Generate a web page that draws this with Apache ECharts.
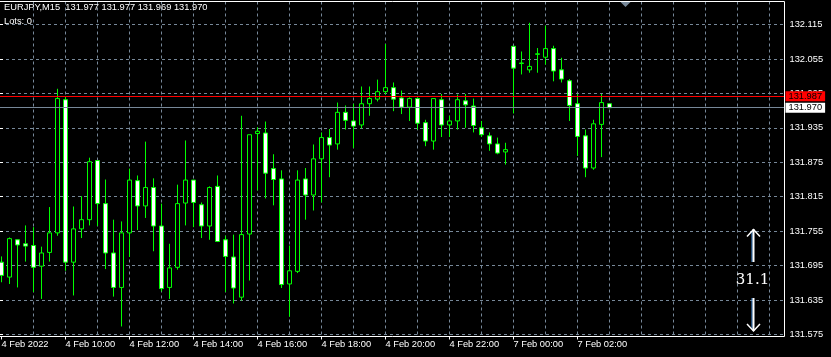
<!DOCTYPE html>
<html>
<head>
<meta charset="utf-8">
<script src="https://cdn.jsdelivr.net/npm/echarts@6/dist/echarts.min.js"></script>
<style>
html,body{margin:0;padding:0;background:#000;}
#c{width:831px;height:357px;}
</style>
</head>
<body>
<div id="c"></div>
<script>
// ---------- texts ----------
const symbolTitle = 'EURJPY,M15  131.977 131.977 131.969 131.970';
const lotsText = 'Lots: 0';
const spreadText = '31.1';
const askPrice = 131.987;
const bidPrice = 131.970;

// ---------- axes ----------
const yTickMin = 131.575;
const yTickMax = 132.115;
const yTickStep = 0.06;
const xTickLabels = ['4 Feb 2022','4 Feb 10:00','4 Feb 12:00','4 Feb 14:00','4 Feb 16:00',
  '4 Feb 18:00','4 Feb 20:00','4 Feb 22:00','7 Feb 00:00','7 Feb 02:00'];

// ---------- M15 candles (k = 0 is 4 Feb 08:00) ----------
const opens = [131.701,131.675,131.740,131.733,131.730,131.694,131.718,131.752,131.984,131.701,
  131.759,131.775,131.878,131.803,131.717,131.657,131.752,131.843,131.799,131.831,
  131.764,131.657,131.692,131.804,131.844,131.801,131.764,131.833,131.740,131.710,
  131.640,131.750,131.925,131.926,131.864,131.846,131.663,131.685,131.846,131.818,
  131.881,131.918,131.907,131.962,131.947,131.940,131.977,131.985,131.998,132.005,
  131.987,131.971,131.986,131.944,131.912,131.984,131.940,131.947,131.982,131.973,
  131.935,131.921,131.907,131.893,132.077,132.047,132.036,132.063,132.058,132.073,
  132.036,132.017,131.977,131.921,131.865,131.941,131.977];
const closes = [131.678,131.742,131.731,131.729,131.692,131.717,131.752,131.986,131.701,131.759,
  131.775,131.876,131.803,131.717,131.657,131.752,131.844,131.799,131.831,131.764,
  131.655,131.691,131.803,131.844,131.805,131.764,131.831,131.737,131.711,131.656,
  131.749,131.923,131.929,131.856,131.845,131.662,131.686,131.844,131.818,131.881,
  131.918,131.905,131.962,131.948,131.938,131.977,131.986,131.998,132.005,131.985,
  131.971,131.986,131.943,131.912,131.986,131.940,131.947,131.984,131.975,131.939,
  131.923,131.907,131.891,131.897,132.039,132.048,132.042,132.064,132.073,132.034,
  132.020,131.974,131.920,131.865,131.942,131.979,131.970];
const lows = [131.666,131.663,131.657,131.702,131.649,131.637,131.702,131.747,131.686,131.643,
  131.743,131.765,131.764,131.689,131.641,131.589,131.710,131.757,131.778,131.720,
  131.650,131.637,131.688,131.765,131.762,131.743,131.740,131.736,131.649,131.629,
  131.634,131.669,131.826,131.812,131.800,131.656,131.606,131.682,131.775,131.791,
  131.805,131.849,131.897,131.932,131.900,131.934,131.956,131.981,131.993,131.964,
  131.959,131.947,131.932,131.903,131.897,131.919,131.919,131.932,131.935,131.927,
  131.919,131.895,131.889,131.871,131.960,132.028,132.031,132.031,132.045,132.016,
  132.014,131.947,131.886,131.849,131.862,131.884,131.969];
const highs = [131.711,131.744,131.740,131.765,131.762,131.728,131.797,132.003,131.990,131.798,
  131.816,131.883,131.878,131.845,131.775,131.772,131.864,131.852,131.911,131.847,
  131.803,131.733,131.836,131.913,131.844,131.805,131.833,131.852,131.747,131.749,
  131.956,131.923,131.936,131.946,131.889,131.861,131.730,131.861,131.865,131.906,
  131.927,131.933,131.979,131.974,131.977,132.007,132.007,132.019,132.081,132.014,
  132.000,131.988,131.988,131.949,131.986,131.994,131.956,131.993,131.994,131.986,
  131.947,131.927,131.918,131.909,132.077,132.068,132.118,132.074,132.113,132.078,
  132.057,132.020,131.994,131.932,131.949,131.994,131.977];

// ---------- build categories (15 min bars, weekend skipped, plus empty shift area) ----------
const SLOTS = 98;
const pad = n => (n < 10 ? '0' : '') + n;
const cats = [];
for (let i = 0; i < SLOTS; i++) {
  let day, mins;
  if (i < 64) { day = 4; mins = 8 * 60 + 15 * i; } else { day = 7; mins = 15 * (i - 64); }
  cats.push(day + ' Feb ' + pad(Math.floor(mins / 60)) + ':' + pad(mins % 60));
}
const candleData = opens.map((o, i) => [o, closes[i], lows[i], highs[i]]);

// ---------- layout ----------
const FONT = "'Liberation Sans', Arial, sans-serif";
const FS = 9.3;
const labTop = 24.5, labBottom = 334.5;          // pixel rows of top/bottom price ticks
const plotTop = 1.5, plotBottom = 336.5, plotRight = 784.5;
const pxPerUnit = (labBottom - labTop) / (yTickMax - yTickMin);
const yMax0 = yTickMax + (labTop - plotTop) / pxPerUnit;
const yMin0 = yTickMin - (plotBottom - labBottom) / pxPerUnit;

const labelIdx = idx => idx % 8 === 0 && idx / 8 < xTickLabels.length;
const gridIdx = idx => idx % 4 === 0 && idx > 0;

const chart = echarts.init(document.getElementById('c'), null, {renderer: 'canvas'});
chart.setOption({
  backgroundColor: '#000',
  animation: false,
  title: [
    {text: symbolTitle, left: 4, top: 2.5, padding: 0,
     textStyle: {color: '#fff', fontSize: FS, fontWeight: 'normal', fontFamily: FONT}},
    {text: lotsText, left: 4, top: 17, padding: 0,
     textStyle: {color: '#fff', fontSize: FS, fontWeight: 'normal', fontFamily: FONT}}
  ],
  grid: [
    {left: 1.5, top: plotTop, width: 776, height: plotBottom - plotTop, outerBoundsMode: 'none', containLabel: false},
    {left: 0, top: labTop, width: plotRight, height: labBottom - labTop, outerBoundsMode: 'none', containLabel: false}
  ],
  xAxis: [
    {type: 'category', gridIndex: 0, data: cats, boundaryGap: false,
     axisLine: {show: false},
     axisTick: {show: true, interval: labelIdx, length: 3, lineStyle: {color: '#fff', width: 1}},
     axisLabel: {show: true, interval: labelIdx, align: 'left', margin: 3, color: '#fff',
       fontSize: FS, fontFamily: FONT,
       formatter: (v, i) => (i % 8 === 0 && xTickLabels[i / 8]) ? xTickLabels[i / 8] : ''},
     splitLine: {show: true, interval: gridIdx, lineStyle: {color: '#778899', width: 1, type: [3, 3]}}},
    {type: 'value', gridIndex: 1, min: 0, max: 1, show: false}
  ],
  yAxis: [
    {type: 'value', gridIndex: 0, min: yMin0, max: yMax0, show: false},
    {type: 'value', gridIndex: 1, position: 'right', min: yTickMin, max: yTickMax, interval: yTickStep,
     axisLine: {show: false},
     axisTick: {show: true, length: 3, lineStyle: {color: '#fff', width: 1}},
     axisLabel: {show: true, margin: 5, color: '#fff', fontSize: FS, fontFamily: FONT,
       formatter: v => v.toFixed(3)},
     splitLine: {show: true, lineStyle: {color: '#778899', width: 1, type: [3, 3]}}}
  ],
  series: [
    {type: 'line', xAxisIndex: 1, yAxisIndex: 1, data: [[0, bidPrice]], showSymbol: false,
     lineStyle: {opacity: 0}, silent: true, z: 1,
     markLine: {
       symbol: 'none', silent: true, animation: false,
       data: [
         {yAxis: askPrice, lineStyle: {color: '#ff0000', width: 1, type: 'solid'},
          label: {show: true, position: 'end', distance: 1, formatter: askPrice.toFixed(3),
            backgroundColor: '#ff0000', color: '#000', padding: [1, 3, 0, 3], lineHeight: 9,
            fontSize: FS, fontFamily: FONT}},
         {yAxis: bidPrice, lineStyle: {color: '#778899', width: 1, type: 'solid'},
          label: {show: true, position: 'end', distance: 1, formatter: bidPrice.toFixed(3),
            backgroundColor: '#ffffff', color: '#000', padding: [1, 3, 0, 3], lineHeight: 9,
            fontSize: FS, fontFamily: FONT}}
       ]
     }},
    {type: 'candlestick', name: 'EURJPY', xAxisIndex: 0, yAxisIndex: 0, data: candleData,
     barWidth: 4, clip: false, z: 3, emphasis: {disabled: true},
     itemStyle: {color: '#000000', color0: '#ffffff', borderColor: '#00ff00', borderColor0: '#00ff00', borderWidth: 1}}
  ],
  graphic: [
    {type: 'polyline', z: 100, silent: true,
     shape: {points: [[0, plotTop], [plotRight, plotTop], [plotRight, plotBottom], [0, plotBottom]]},
     style: {stroke: '#ffffff', lineWidth: 1, fill: null}},
    {type: 'polygon', z: 100, silent: true,
     shape: {points: [[620.5, 2], [630.5, 2], [625.5, 7]]},
     style: {fill: '#778899'}},
    // spread indicator
    {type: 'line', z: 100, silent: true, shape: {x1: 752, y1: 231, x2: 752, y2: 262}, style: {stroke: '#3a8ee6', lineWidth: 1}},
    {type: 'line', z: 101, silent: true, shape: {x1: 753.5, y1: 229, x2: 753.5, y2: 262}, style: {stroke: '#ffffff', lineWidth: 2}},
    {type: 'polyline', z: 101, silent: true, shape: {points: [[747, 236.5], [753.5, 229.5], [760, 236.5]]}, style: {stroke: '#ffffff', lineWidth: 1.5, fill: null}},
    {type: 'line', z: 100, silent: true, shape: {x1: 752, y1: 298, x2: 752, y2: 329}, style: {stroke: '#3a8ee6', lineWidth: 1}},
    {type: 'line', z: 101, silent: true, shape: {x1: 753.5, y1: 298, x2: 753.5, y2: 331}, style: {stroke: '#ffffff', lineWidth: 2}},
    {type: 'polyline', z: 101, silent: true, shape: {points: [[747, 324], [753.5, 331], [760, 324]]}, style: {stroke: '#ffffff', lineWidth: 1.5, fill: null}},
    {type: 'text', z: 101, silent: true, x: 752.5, y: 280,
     style: {text: spreadText, fill: '#ffffff', font: "15px 'DejaVu Serif', serif", textAlign: 'center', textVerticalAlign: 'middle'}}
  ]
});
</script>
</body>
</html>
